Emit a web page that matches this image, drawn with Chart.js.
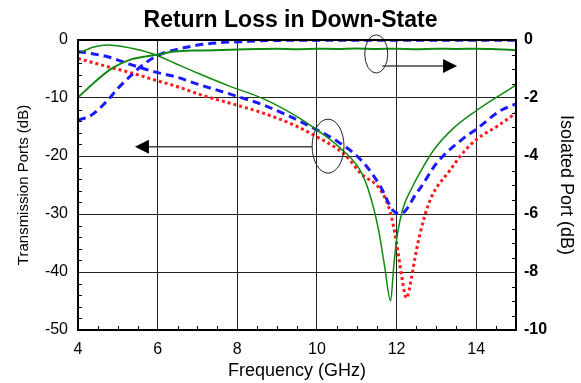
<!DOCTYPE html>
<html>
<head>
<meta charset="utf-8">
<script src="https://cdn.jsdelivr.net/npm/chart.js@4.4.1/dist/chart.umd.min.js"></script>
<style>
  html, body { margin: 0; padding: 0; background: #fff; }
  #wrap { width: 581px; height: 383px; position: relative; }
</style>
</head>
<body>
<div id="wrap"><canvas id="rl-chart"></canvas></div>
<script>
// tick values
const freqTicks = [4, 6, 8, 10, 12, 14];
const transTicks = [-50, -40, -30, -20, -10, 0];
const isoTicks = [-10, -8, -6, -4, -2, 0];

// transmission port curves (left axis, dB)
const greenTransFreq = [4, 4.4, 4.75, 5.35, 5.93, 6.43, 7, 7.82, 8.65, 9.5, 10, 10.58, 11.08, 11.3, 11.55, 11.7, 11.85, 11.93, 12, 12.15, 12.4, 12.6, 12.93, 13.43, 14, 14.53, 15];
const greenTrans = [-2.3, -1.2, -0.86, -1.43, -2.5, -4, -5.7, -8, -10.1, -13.2, -15.5, -18.6, -22.4, -26, -32.8, -39, -45, -39, -34.5, -29.3, -25.3, -22.7, -19, -15.2, -12.2, -9.8, -7.8];

const blueTransFreq = [4, 4.75, 5.35, 5.93, 6.43, 7, 7.9, 8.65, 9.33, 9.83, 10.25, 10.5, 10.92, 11.25, 11.6, 11.9, 12.05, 12.2, 12.5, 12.6, 13, 13.67, 14, 14.6, 15];
const blueTrans = [-2, -2.9, -4.3, -5.5, -6.3, -7.6, -9.5, -11.2, -13.2, -14.9, -16.4, -17.4, -19.5, -21.8, -25.3, -29.3, -29.9, -29.6, -26.4, -25.5, -21.3, -17, -15.4, -12.2, -11];

const redTransFreq = [4, 4.75, 5.35, 5.93, 6.43, 7.15, 7.82, 8.65, 9.5, 10, 10.5, 10.75, 11.1, 11.6, 11.85, 12, 12.13, 12.25, 12.38, 12.5, 12.7, 12.85, 13, 13.35, 13.6, 14, 14.52, 15];
const redTrans = [-3.2, -4.6, -5.7, -6.9, -7.9, -9.6, -10.9, -12.6, -14.9, -16.7, -18.7, -20.1, -23, -25.9, -29.9, -35, -40.8, -44.5, -40.8, -36.2, -30.5, -27.5, -25.5, -22.4, -20, -17.2, -14.9, -12.6];

// isolated port curves (right axis, dB)
const greenIsoFreq = [4, 4.43, 4.85, 5.35, 5.93, 6.43, 7, 8, 8.5, 9, 9.5, 10, 10.5, 11, 11.5, 12, 12.5, 13, 13.5, 14, 14.5, 15];
const greenIso = [-1.98, -1.44, -0.98, -0.66, -0.52, -0.4, -0.36, -0.33, -0.31, -0.3, -0.32, -0.3, -0.31, -0.29, -0.31, -0.3, -0.32, -0.3, -0.31, -0.3, -0.32, -0.35];

const blueIsoFreq = [4, 4.34, 4.75, 5, 5.35, 5.6, 6.02, 6.43, 6.8, 7.13, 7.56, 8.07, 8.8, 10, 12, 14, 15];
const blueIso = [-2.76, -2.59, -2.07, -1.67, -1.2, -0.89, -0.52, -0.34, -0.23, -0.15, -0.09, -0.06, -0.02, -0.01, -0.01, -0.01, -0.01];

// annotation marks: ellipse centre/radius and arrow start/tip (left axis units)
const ellipseIso = [11.49, -2.4, 0.29, 3.3];
const arrowIso = [11.64, 13.52, -4.5];
const ellipseTrans = [10.28, -18.3, 0.4, 4.65];
const arrowTrans = [9.88, 5.43, -18.4];

const pts = (xs, ys) => xs.map((x, i) => ({ x, y: ys[i] }));
const fixTicks = (list) => (scale) => { scale.ticks = list.map((v) => ({ value: v })); };

const GREEN = '#108a10';
const BLUE = '#1a1aff';
const RED = '#ff1a1a';
const FONT = "'Liberation Sans', Arial, sans-serif";

const frame = {
    id: 'frame',
    afterDatasetsDraw(chart) {
        const { ctx, chartArea: a, scales } = chart;
        const x = scales.x, yl = scales.y, yr = scales.y2;
        ctx.save();

        // minor ticks
        ctx.strokeStyle = '#000';
        ctx.lineWidth = 1;
        ctx.beginPath();
        for (let f = 4.5; f < 15; f += 0.5) {
            if (f % 2 === 0) continue;
            const px = Math.round(x.getPixelForValue(f)) + 0.5;
            ctx.moveTo(px, a.bottom);
            ctx.lineTo(px, a.bottom - 4);
        }
        for (let v = -48; v < 0; v += 2) {
            if (v % 10 === 0) continue;
            const py = Math.round(yl.getPixelForValue(v)) + 0.5;
            ctx.moveTo(a.left, py);
            ctx.lineTo(a.left + 4, py);
        }
        for (let v = -9.5; v < 0; v += 0.5) {
            if (v % 2 === 0) continue;
            const py = Math.round(yr.getPixelForValue(v)) + 0.5;
            ctx.moveTo(a.right, py);
            ctx.lineTo(a.right - 4, py);
        }
        ctx.stroke();

        // ellipses
        ctx.strokeStyle = '#222';
        ctx.lineWidth = 1;
        for (const e of [ellipseIso, ellipseTrans]) {
            const cx = x.getPixelForValue(e[0]);
            const cy = yl.getPixelForValue(e[1]);
            const rx = Math.abs(x.getPixelForValue(e[0] + e[2]) - cx);
            const ry = Math.abs(yl.getPixelForValue(e[1] + e[3]) - cy);
            ctx.beginPath();
            ctx.ellipse(cx, cy, rx, ry, 0, 0, Math.PI * 2);
            ctx.stroke();
        }

        // arrows
        for (const ar of [arrowIso, arrowTrans]) {
            const x0 = x.getPixelForValue(ar[0]);
            const x1 = x.getPixelForValue(ar[1]);
            const py = yl.getPixelForValue(ar[2]);
            const dir = Math.sign(x1 - x0);
            ctx.strokeStyle = '#444';
            ctx.lineWidth = 1.5;
            ctx.beginPath();
            ctx.moveTo(x0, py);
            ctx.lineTo(x1 - dir * 12, py);
            ctx.stroke();
            ctx.fillStyle = '#000';
            ctx.beginPath();
            ctx.moveTo(x1, py);
            ctx.lineTo(x1 - dir * 14, py - 7);
            ctx.lineTo(x1 - dir * 14, py + 7);
            ctx.closePath();
            ctx.fill();
        }

        // plot box
        ctx.strokeStyle = '#000';
        ctx.lineWidth = 2;
        ctx.strokeRect(a.left, a.top, a.right - a.left, a.bottom - a.top);
        ctx.restore();
    },
};

const lineStyle = {
    fill: false,
    pointRadius: 0,
    cubicInterpolationMode: 'monotone',
};

new Chart(document.getElementById('rl-chart'), {
    type: 'line',
    data: {
        datasets: [
            { ...lineStyle, label: 'Isolated (green)', data: pts(greenIsoFreq, greenIso), yAxisID: 'y2', borderColor: GREEN, borderWidth: 2 },
            { ...lineStyle, label: 'Isolated (blue)', data: pts(blueIsoFreq, blueIso), yAxisID: 'y2', borderColor: BLUE, borderWidth: 3, borderDash: [8, 5] },
            { ...lineStyle, label: 'Transmission (green)', data: pts(greenTransFreq, greenTrans), yAxisID: 'y', borderColor: GREEN, borderWidth: 1.5 },
            { ...lineStyle, label: 'Transmission (blue)', data: pts(blueTransFreq, blueTrans), yAxisID: 'y', borderColor: BLUE, borderWidth: 3, borderDash: [8, 5] },
            { ...lineStyle, label: 'Transmission (red)', data: pts(redTransFreq, redTrans), yAxisID: 'y', borderColor: RED, borderWidth: 3, borderDash: [3, 3] },
        ],
    },
    options: {
        responsive: true,
        maintainAspectRatio: false,
        animation: false,
        devicePixelRatio: 1,
        layout: { padding: 0 },
        plugins: {
            legend: { display: false },
            tooltip: { enabled: false },
            title: {
                display: true,
                text: 'Return Loss in Down-State',
                color: '#000',
                font: { family: FONT, size: 23, weight: 'bold', lineHeight: 1.2 },
                padding: { top: 7, bottom: 5.4 },
            },
        },
        scales: {
            x: {
                type: 'linear',
                min: 4,
                max: 15,
                afterBuildTicks: fixTicks(freqTicks),
                afterFit: (s) => { s.height = 53; },
                grid: { color: '#222', lineWidth: 1, drawTicks: false },
                border: { display: false },
                ticks: { color: '#000', padding: 10, font: { family: FONT, size: 16 } },
                title: {
                    display: true,
                    text: 'Frequency (GHz)',
                    color: '#000',
                    font: { family: FONT, size: 18 },
                    padding: { top: 0, bottom: 1 },
                },
            },
            y: {
                type: 'linear',
                position: 'left',
                min: -50,
                max: 0,
                afterBuildTicks: fixTicks(transTicks),
                afterFit: (s) => { s.width = 78; },
                grid: { color: '#222', lineWidth: 1, drawTicks: false },
                border: { display: false },
                ticks: { color: '#000', padding: 10, font: { family: FONT, size: 16 } },
                title: {
                    display: true,
                    text: 'Transmission Ports (dB)',
                    color: '#000',
                    font: { family: FONT, size: 15 },
                    padding: { top: 15, bottom: 0 },
                },
            },
            y2: {
                type: 'linear',
                position: 'right',
                min: -10,
                max: 0,
                afterBuildTicks: fixTicks(isoTicks),
                afterFit: (s) => { s.width = 65; },
                grid: { drawOnChartArea: false, drawTicks: false },
                border: { display: false },
                ticks: { color: '#000', padding: 8, font: { family: FONT, size: 16, weight: 'bold' } },
                title: {
                    display: true,
                    text: 'Isolated Port (dB)',
                    color: '#000',
                    font: { family: FONT, size: 18 },
                    padding: { top: 4, bottom: 0 },
                },
            },
        },
    },
    plugins: [frame],
});
</script>
</body>
</html>
